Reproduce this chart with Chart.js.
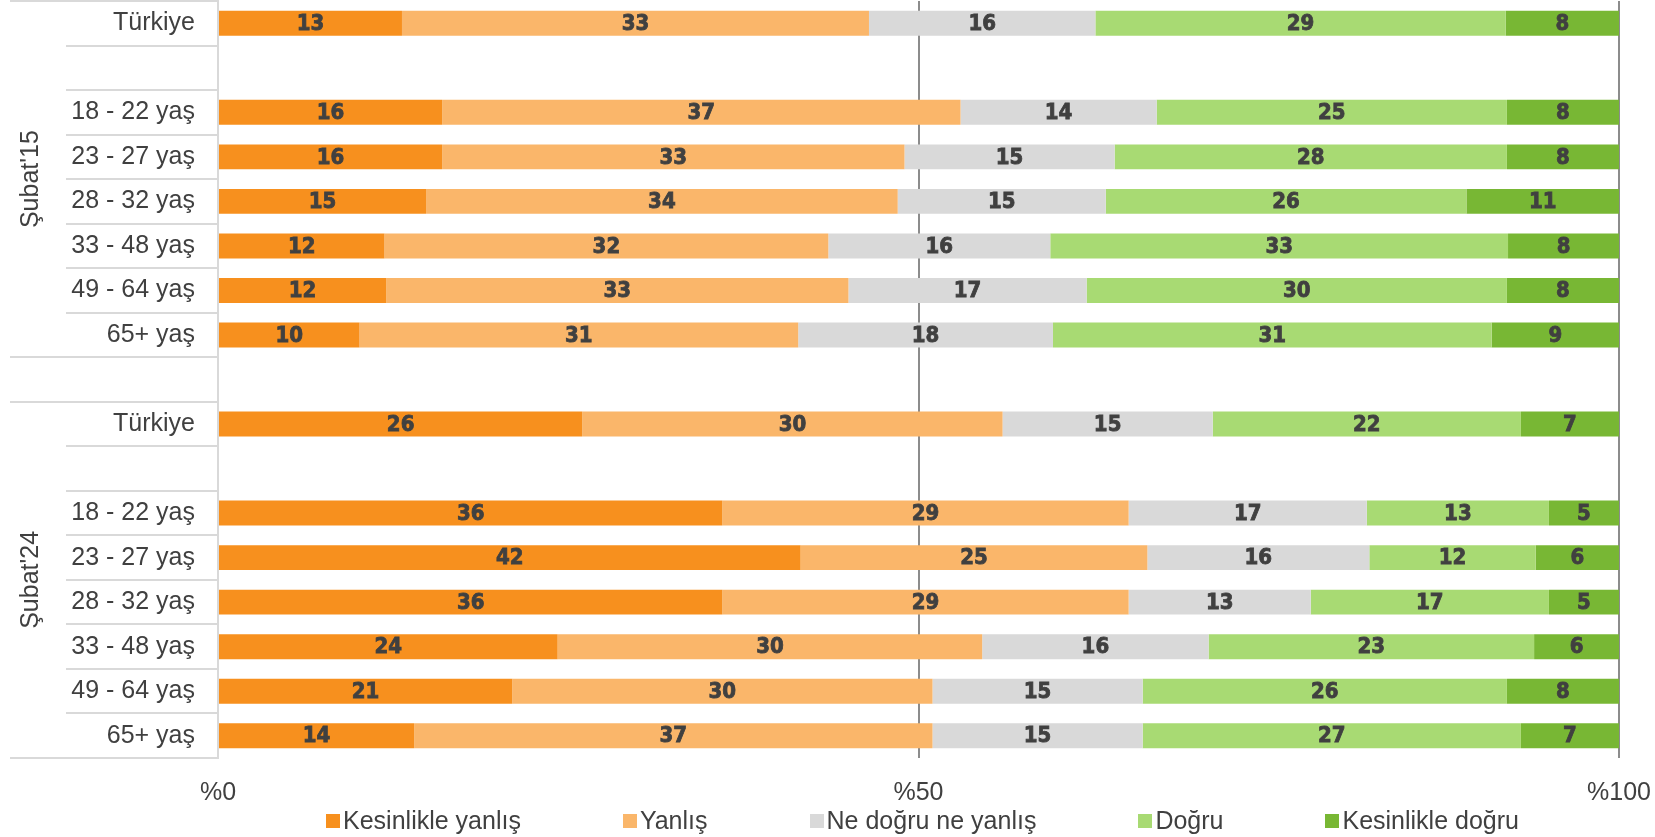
<!DOCTYPE html>
<html>
<head>
<meta charset="utf-8">
<script src="https://cdn.jsdelivr.net/npm/chart.js@4.4.1/dist/chart.umd.min.js"></script>
<style>
  html, body { margin: 0; padding: 0; background: #fff; }
  #wrap { width: 1655px; height: 837px; position: relative; }
</style>
</head>
<body>
<div id="wrap"><canvas id="chart"></canvas></div>
<script>
// rows, top to bottom ('' = empty spacer row)
const categories = ['Türkiye', '', '18 - 22 yaş', '23 - 27 yaş', '28 - 32 yaş', '33 - 48 yaş', '49 - 64 yaş', '65+ yaş',
  '', 'Türkiye', '', '18 - 22 yaş', '23 - 27 yaş', '28 - 32 yaş', '33 - 48 yaş', '49 - 64 yaş', '65+ yaş'];

const kesinlikleYanlis = [13, null, 16, 16, 15, 12, 12, 10, null, 26, null, 36, 42, 36, 24, 21, 14];
const yanlis           = [33, null, 37, 33, 34, 32, 33, 31, null, 30, null, 29, 25, 29, 30, 30, 37];
const neDogruNeYanlis  = [16, null, 14, 15, 15, 16, 17, 18, null, 15, null, 17, 16, 13, 16, 15, 15];
const dogru            = [29, null, 25, 28, 26, 33, 30, 31, null, 22, null, 13, 12, 17, 23, 26, 27];
const kesinlikleDogru  = [8, null, 8, 8, 11, 8, 8, 9, null, 7, null, 5, 6, 5, 6, 8, 7];

const seriesNames = ['Kesinlikle yanlış', 'Yanlış', 'Ne doğru ne yanlış', 'Doğru', 'Kesinlikle doğru'];
const seriesColors = ['#F7901E', '#FAB66A', '#D9D9D9', '#A8DA73', '#78B734'];

// group labels on the far left: [label, first row, last row]
const groups = [["Şubat'15", 0, 7], ['', 8, 8], ["Şubat'24", 9, 16]];

const xTicks = [0, 50, 100];

const TEXT = '#404040';
const FONT = "'Liberation Sans', Arial, sans-serif";

// 100% stacked: each row is scaled to its own total, labels keep the printed values
const allSeries = [kesinlikleYanlis, yanlis, neDogruNeYanlis, dogru, kesinlikleDogru];
const rowTotals = categories.map((_, i) => allSeries.reduce((s, arr) => s + (arr[i] || 0), 0));

const datasets = allSeries.map((arr, k) => ({
  label: seriesNames[k],
  data: arr.map((v, i) => v == null ? null : v / rowTotals[i] * 100),
  printed: arr,
  backgroundColor: seriesColors[k],
  borderWidth: 0,
  categoryPercentage: 1,
  barPercentage: 0.56,
}));

const valueLabels = {
  id: 'valueLabels',
  afterDatasetsDraw(chart) {
    const c = chart.ctx;
    c.save();
    c.font = "bold 22px 'DejaVu Sans Condensed', 'DejaVu Sans', sans-serif";
    c.fillStyle = TEXT;
    c.strokeStyle = TEXT;
    c.lineWidth = 0.8;
    c.textAlign = 'center';
    c.textBaseline = 'middle';
    chart.data.datasets.forEach((ds, di) => {
      chart.getDatasetMeta(di).data.forEach((bar, i) => {
        const v = ds.printed[i];
        if (v == null) return;
        const x = (bar.x + bar.base) / 2;
        c.fillText(v, x, bar.y + 1);
        c.strokeText(v, x, bar.y + 1);
      });
    });
    c.restore();
  }
};

const leftTable = {
  id: 'leftTable',
  afterDraw(chart) {
    const c = chart.ctx;
    const y = chart.scales.y;
    const area = chart.chartArea;
    const half = (y.getPixelForValue(1) - y.getPixelForValue(0)) / 2;
    const top = y.getPixelForValue(0) - half;
    const starts = new Set();
    groups.forEach(g => { starts.add(g[1]); starts.add(g[2] + 1); });
    c.save();
    c.strokeStyle = '#D9D9D9';
    c.lineWidth = 2;
    for (let k = 0; k <= categories.length; k++) {
      const yy = Math.max(1, Math.round(top + k * 2 * half));
      c.beginPath();
      c.moveTo(starts.has(k) ? 10 : 66, yy);
      c.lineTo(area.left, yy);
      c.stroke();
    }
    c.fillStyle = TEXT;
    c.font = '25px ' + FONT;
    c.textAlign = 'center';
    c.textBaseline = 'middle';
    groups.forEach(([label, a, b]) => {
      if (!label) return;
      const mid = (y.getPixelForValue(a) + y.getPixelForValue(b)) / 2;
      c.save();
      c.translate(31, mid);
      c.rotate(-Math.PI / 2);
      c.fillText(label, 0, 0);
      c.restore();
    });
    c.restore();
  }
};

const bottomLegend = {
  id: 'bottomLegend',
  afterDraw(chart) {
    const c = chart.ctx;
    const area = chart.chartArea;
    const box = 14, gapText = 3, gapItem = 102, cy = 821;
    c.save();
    c.font = '25px ' + FONT;
    c.textBaseline = 'middle';
    const items = chart.data.datasets.map(ds => ({ text: ds.label, color: ds.backgroundColor, w: c.measureText(ds.label).width }));
    const total = items.reduce((s, it) => s + box + gapText + it.w, 0) + gapItem * (items.length - 1);
    let x = (area.left + area.right) / 2 - total / 2 + 4;
    items.forEach(it => {
      c.fillStyle = it.color;
      c.fillRect(Math.round(x), cy - box / 2, box, box);
      c.fillStyle = TEXT;
      c.fillText(it.text, x + box + gapText, cy + 1);
      x += box + gapText + it.w + gapItem;
    });
    c.restore();
  }
};

new Chart(document.getElementById('chart'), {
  type: 'bar',
  data: { labels: categories, datasets },
  options: {
    indexAxis: 'y',
    responsive: true,
    maintainAspectRatio: false,
    animation: false,
    layout: { padding: { top: 1, right: 36, left: 0, bottom: 0 } },
    scales: {
      x: {
        stacked: true,
        min: 0, max: 100,
        afterBuildTicks(scale) { scale.ticks = xTicks.map(v => ({ value: v })); },
        afterFit(scale) {
          scale.height = 79;
          scale.paddingLeft = 0;
          scale.paddingRight = 0;
        },
        grid: {
          drawTicks: false,
          lineWidth: 2,
          color: ctx => ctx.tick && ctx.tick.value === 0 ? 'rgba(0,0,0,0)' : '#8C8C8C',
        },
        border: { display: false },
        ticks: {
          padding: 20,
          color: TEXT,
          font: { family: FONT, size: 25 },
          maxRotation: 0,
          callback: v => '%' + v,
        },
      },
      y: {
        stacked: true,
        afterFit(scale) {
          scale.width = 218;
          scale.paddingTop = 0;
          scale.paddingBottom = 0;
        },
        grid: { display: false, drawTicks: false },
        border: { display: true, color: '#D9D9D9', width: 2 },
        ticks: {
          padding: 23,
          color: TEXT,
          font: { family: FONT, size: 25 },
          autoSkip: false,
        },
      },
    },
    plugins: {
      legend: { display: false },
      tooltip: { enabled: false },
    },
  },
  plugins: [valueLabels, leftTable, bottomLegend],
});
</script>
</body>
</html>
